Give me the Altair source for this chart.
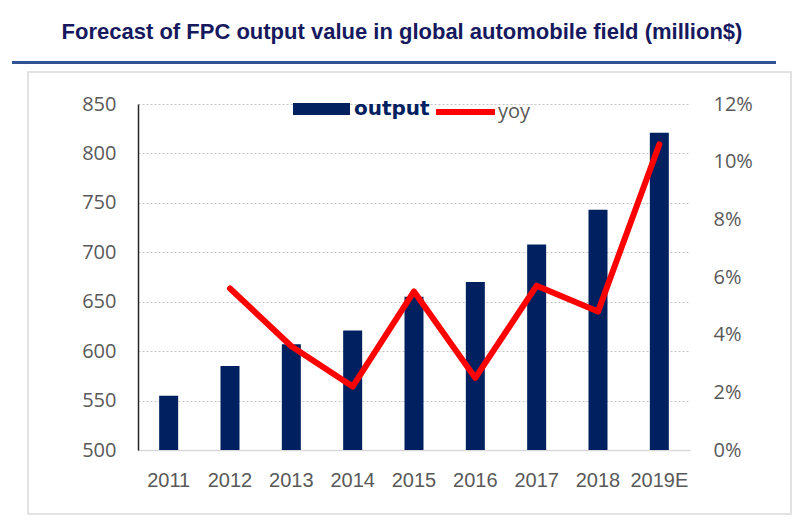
import altair as alt
import pandas as pd

years = ["2011", "2012", "2013", "2014", "2015", "2016", "2017", "2018", "2019E"]
output = [555, 585, 607, 621, 655, 670, 708, 743, 821]
yoy = [None, 0.056, 0.036, 0.022, 0.055, 0.025, 0.057, 0.048, 0.106]
left_ticks = [500, 550, 600, 650, 700, 750, 800, 850]
right_ticks = [0, 0.02, 0.04, 0.06, 0.08, 0.10, 0.12]
title_text = "Forecast of FPC output value in global automobile field (million$)"

df = pd.DataFrame({"year": years, "output": output, "yoy": yoy})

NAVY = "#002060"
RED = "#FF0000"
GRAY = "#595959"
NARROW = "Liberation Sans Narrow, Arial Narrow, sans-serif"

x_enc = alt.X("year:N", sort=years, title=None,
              scale=alt.Scale(paddingInner=0, paddingOuter=0),
              axis=alt.Axis(labelAngle=0, ticks=False, domainColor="#d9d9d9",
                            domainWidth=1.5, labelFont=NARROW, labelFontSize=20,
                            labelColor=GRAY, labelPadding=20))

deco = alt.Data(values=[{"k": 1}])

box = alt.Chart(deco).mark_rect(filled=False, stroke="#d9d9d9", strokeWidth=1.5).encode(
    x=alt.value(-110), x2=alt.value(653), y=alt.value(-32), y2=alt.value(410))

underline = alt.Chart(deco).mark_rule(color="#2f5496", strokeWidth=3).encode(
    x=alt.value(-126), x2=alt.value(638), y=alt.value(-41.5))

bars = alt.Chart(df).transform_calculate(s1="'output'").mark_bar(size=19, clip=True).encode(
    x=x_enc,
    y=alt.Y("output:Q", title=None,
            scale=alt.Scale(domain=[500, 850], zero=False, nice=False),
            axis=alt.Axis(values=left_ticks, ticks=False, domainColor="#262626",
                          domainWidth=1.5, grid=True, gridColor="#c4c4c4",
                          gridDash=[2, 2], gridWidth=1.2, labelFont="Open Sans",
                          labelFontSize=20, labelColor=GRAY, labelPadding=22)),
    color=alt.Color("s1:N", scale=alt.Scale(domain=["output"], range=[NAVY]),
                    legend=alt.Legend(orient="none", legendX=155, legendY=-23.5,
                                      title=None, padding=0,
                                      symbolType="M-1,-0.21H1V0.21H-1Z",
                                      symbolSize=3249, symbolStrokeWidth=0,
                                      labelFont="DejaVu Sans", labelFontWeight="bold",
                                      labelFontSize=20, labelColor=NAVY,
                                      labelOffset=4)),
)

line = alt.Chart(df).transform_calculate(s2="'yoy'").mark_line(
    strokeWidth=6, strokeCap="round", strokeJoin="round").encode(
    x=x_enc,
    y=alt.Y("yoy:Q", title=None,
            scale=alt.Scale(domain=[0, 0.12], nice=False),
            axis=alt.Axis(orient="right", values=right_ticks, format=".0%",
                          ticks=False, domain=False, grid=False,
                          labelFont="Open Sans", labelFontSize=20,
                          labelColor=GRAY, labelPadding=23)),
    stroke=alt.Stroke("s2:N", scale=alt.Scale(domain=["yoy"], range=[RED]),
                      legend=alt.Legend(orient="none", legendX=295, legendY=-24.5,
                                        title=None, padding=0,
                                        symbolType="stroke", symbolSize=3481,
                                        symbolStrokeWidth=6,
                                        labelFont="Open Sans", labelFontSize=20,
                                        labelColor=GRAY, labelOffset=0)),
)

chart = alt.layer(box, underline, bars, line).resolve_scale(
    y="independent", color="independent", stroke="independent"
).properties(
    width=552, height=346,
    title=alt.TitleParams(title_text, font=NARROW, fontWeight="bold", fontSize=22,
                          color="#16195e", anchor="middle", frame="group",
                          dx=-12, offset=17),
    autosize=alt.AutoSizeParams(type="none"),
    padding={"left": 130, "top": 96, "right": 102, "bottom": 65},
).configure_view(stroke=None)

chart.save("out.html", embed_options={"renderer": "svg", "actions": False})
